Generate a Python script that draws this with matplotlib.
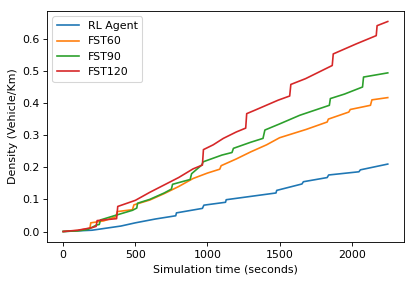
import matplotlib
matplotlib.use("Agg")
import matplotlib.pyplot as plt

# step-like cumulative density curves (time s, density)
rl_t = [0, 200, 400, 500, 640, 780, 785, 965, 975, 1125, 1130, 1475, 1480,
        1655, 1665, 1830, 1840, 2050, 2060, 2250]
rl_v = [0, 0.004, 0.017, 0.027, 0.039, 0.049, 0.058, 0.072, 0.082, 0.091, 0.099,
        0.120, 0.128, 0.148, 0.155, 0.168, 0.176, 0.186, 0.192, 0.210]

fst60_t = [0, 100, 185, 191, 280, 365, 375, 480, 490, 600, 700, 800, 900, 1000,
           1085, 1095, 1200, 1300, 1410, 1500, 1685, 1830, 1838, 1980, 1990,
           2130, 2140, 2250]
fst60_v = [0, 0.003, 0.010, 0.027, 0.033, 0.046, 0.062, 0.068, 0.083, 0.098,
           0.118, 0.140, 0.165, 0.182, 0.194, 0.205, 0.226, 0.248, 0.270, 0.292,
           0.318, 0.341, 0.350, 0.372, 0.380, 0.393, 0.410, 0.417]

fst90_t = [0, 100, 170, 230, 250, 258, 360, 480, 510, 515, 600, 700, 750, 758,
           880, 890, 960, 970, 1100, 1170, 1180, 1300, 1385, 1398, 1500, 1640,
           1845, 1852, 1950, 2075, 2082, 2250]
fst90_v = [0, 0.002, 0.006, 0.020, 0.022, 0.036, 0.050, 0.066, 0.073, 0.088,
           0.100, 0.120, 0.132, 0.147, 0.162, 0.180, 0.207, 0.217, 0.238, 0.246,
           0.259, 0.278, 0.290, 0.316, 0.335, 0.362, 0.393, 0.414, 0.428, 0.450,
           0.481, 0.494]

fst120_t = [0, 100, 200, 228, 235, 370, 378, 500, 600, 700, 800, 900, 965, 972,
            1040, 1110, 1200, 1265, 1272, 1330, 1490, 1570, 1578, 1680, 1865,
            1872, 2030, 2170, 2176, 2250]
fst120_v = [0, 0.004, 0.012, 0.016, 0.034, 0.040, 0.078, 0.097, 0.122, 0.145,
            0.168, 0.195, 0.207, 0.255, 0.270, 0.290, 0.310, 0.322, 0.367, 0.378,
            0.409, 0.422, 0.458, 0.476, 0.517, 0.553, 0.584, 0.610, 0.641, 0.654]

dpi = 79
fig = plt.figure(figsize=(415 / dpi, 283 / dpi), dpi=dpi)
ax = fig.add_axes([47 / 415, 1 - 242 / 283, 357 / 415, 231 / 283])
ax.plot(rl_t, rl_v, label="RL Agent")
ax.plot(fst60_t, fst60_v, label="FST60")
ax.plot(fst90_t, fst90_v, label="FST90")
ax.plot(fst120_t, fst120_v, label="FST120")
ax.set_xlabel("Simulation time (seconds)")
ax.set_ylabel("Density (Vehicle/Km)")
ax.legend(loc="upper left")
fig.savefig("out.png", dpi=dpi)
